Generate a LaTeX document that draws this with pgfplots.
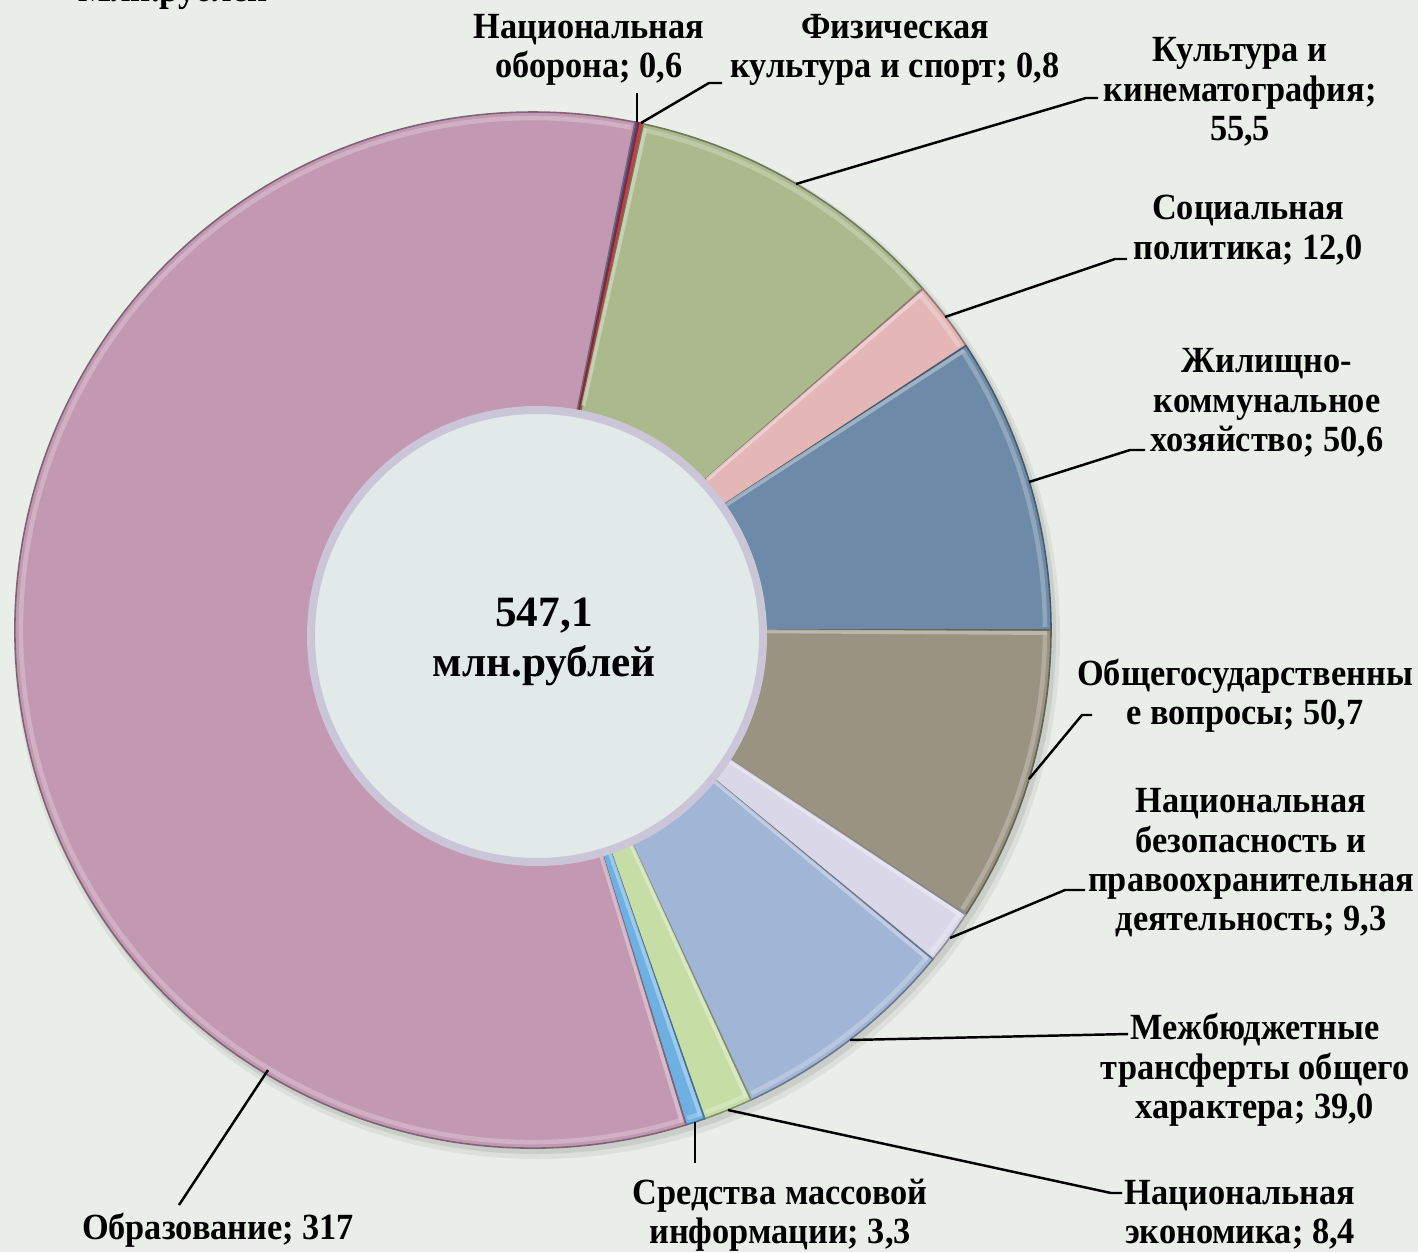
\documentclass[border=0pt]{standalone}
\usepackage{fontspec}
\setmainfont{Liberation Serif}
\newfontfamily\lblfont{Liberation Serif}[FakeStretch=0.93]
\usepackage{pgfplots}
\usepackage{pgfplotstable}
\usetikzlibrary{calc}
\pgfplotsset{compat=1.18}

\definecolor{bg}{RGB}{233,238,232}
\definecolor{slc0}{RGB}{72,78,142}
\definecolor{slc1}{RGB}{200,62,72}
\definecolor{slc2}{RGB}{171,185,140}
\definecolor{slc3}{RGB}{228,182,182}
\definecolor{slc4}{RGB}{109,139,168}
\definecolor{slc5}{RGB}{153,147,129}
\definecolor{slc6}{RGB}{218,216,232}
\definecolor{slc7}{RGB}{161,181,214}
\definecolor{slc8}{RGB}{198,222,166}
\definecolor{slc9}{RGB}{110,176,226}
\definecolor{slc10}{RGB}{195,152,178}
\definecolor{innerfill}{RGB}{225,234,233}
\definecolor{innerborder}{RGB}{203,198,215}

\tikzset{
  lbl/.style={font=\lblfont\fontsize{10.5}{11.2}\selectfont\bfseries,align=center,inner sep=0pt},
  leader/.style={black,line width=0.7pt}}

% budget by section, mln roubles, clockwise from the first slice
\pgfplotstableread{
value
0.6
0.8
55.5
12.0
50.6
50.7
9.3
39.0
8.4
3.3
317
}\budget

\begin{document}
\begin{tikzpicture}
\useasboundingbox (0,0) rectangle (141.8mm,125.2mm);
\pgfplotstablegetrowsof{\budget}
\pgfmathtruncatemacro\nrows{\pgfplotsretval-1}
\gdef\total{0}
\foreach \i in {0,...,\nrows}{%
  \pgfplotstablegetelem{\i}{value}\of\budget
  \pgfmathsetmacro\tmp{\total+\pgfplotsretval}%
  \xdef\total{\tmp}%
}
\gdef\cur{78.63}
\foreach \i in {0,...,\nrows}{%
  \pgfplotstablegetelem{\i}{value}\of\budget
  \pgfmathsetmacro\nxt{\cur-\pgfplotsretval/\total*360}%
  \expandafter\xdef\csname sa\i\endcsname{\cur}%
  \expandafter\xdef\csname ea\i\endcsname{\nxt}%
  \xdef\cur{\nxt}%
}
\begin{axis}[x=0.1mm,y=0.1mm,xmin=0,xmax=1418,ymin=0,ymax=1252,
  hide axis,clip=false,anchor=south west,at={(0,0)}]
\fill[bg] (axis cs:0,0) rectangle (axis cs:1418,1252);
\fill[black,opacity=0.06] (axis cs:537,616) circle[radius=52.3mm];
\fill[black,opacity=0.08] (axis cs:536,618) circle[radius=52.0mm];
\pgfplotsinvokeforeach{0,...,10}{%
  \edef\temp{\noexpand\fill[slc#1,draw=slc#1!65!black,line width=0.45pt]
    (axis cs:533,622) -- +(\csname sa#1\endcsname:51.8mm)
    arc[start angle=\csname sa#1\endcsname,end angle=\csname ea#1\endcsname,radius=51.8mm] -- cycle;}%
  \temp
}
\pgfplotsinvokeforeach{2,...,10}{%
  \edef\temp{\noexpand\draw[slc#1!55!white,line width=1.1pt,opacity=0.75]
    ($(axis cs:533,622)+(\csname sa#1\endcsname-0.35:23mm)$) -- +(\csname sa#1\endcsname-0.35:28.4mm);}%
  \temp
  \edef\temp{\noexpand\draw[slc#1!60!white,line width=1.3pt,opacity=0.6]
    ($(axis cs:533,622)+(\csname sa#1\endcsname-0.35:51.2mm)$)
    arc[start angle=\csname sa#1\endcsname-0.35,end angle=\csname ea#1\endcsname+0.35,radius=51.2mm];}%
  \temp
}
\fill[innerfill,draw=innerborder,line width=0.8mm] (axis cs:537,616) circle[radius=22.6mm];
\node[font=\fontsize{12.3}{14}\selectfont\bfseries,anchor=base] at (axis cs:544,625) {547,1};
\node[font=\fontsize{12.3}{14}\selectfont\bfseries,anchor=base] at (axis cs:544,575) {млн.рублей};

\node[font=\lblfont\fontsize{10.7}{12}\selectfont\bfseries,anchor=base] at (axis cs:173,1250) {Млн.рублей};

% leader lines
\draw[leader] (axis cs:637,1130) -- (axis cs:637,1159);
\draw[leader] (axis cs:641,1129) -- (axis cs:709,1169) -- (axis cs:722,1169);
\draw[leader] (axis cs:796,1068) -- (axis cs:1086,1154) -- (axis cs:1098,1154);
\draw[leader] (axis cs:945,935) -- (axis cs:1115,993) -- (axis cs:1127,993);
\draw[leader] (axis cs:1029,770) -- (axis cs:1130,802) -- (axis cs:1145,802);
\draw[leader] (axis cs:1029,473) -- (axis cs:1082,537) -- (axis cs:1092,537);
\draw[leader] (axis cs:950,314) -- (axis cs:1065,362) -- (axis cs:1085,362);
\draw[leader] (axis cs:850,212) -- (axis cs:1128,218);
\draw[leader] (axis cs:728,142) -- (axis cs:1111,59) -- (axis cs:1122,59);
\draw[leader] (axis cs:695,130) -- (axis cs:695,89);
\draw[leader] (axis cs:268,182) -- (axis cs:179,47);

% labels
\node[lbl] at (axis cs:589,1202) {Национальная\\оборона; 0,6};
\node[lbl] at (axis cs:895,1202) {Физическая\\культура и спорт; 0,8};
\node[lbl] at (axis cs:1240,1160) {Культура и\\кинематография;\\55,5};
\node[lbl] at (axis cs:1248,1022) {Социальная\\политика; 12,0};
\node[lbl] at (axis cs:1267,849) {Жилищно-\\коммунальное\\хозяйство; 50,6};
\node[lbl] at (axis cs:1245,556) {Общегосударственны\\е вопросы; 50,7};
\node[lbl] at (axis cs:1251,389) {Национальная\\безопасность и\\правоохранительная\\деятельность; 9,3};
\node[lbl] at (axis cs:1255,182) {Межбюджетные\\трансферты общего\\характера; 39,0};
\node[lbl] at (axis cs:1240,37) {Национальная\\экономика; 8,4};
\node[lbl] at (axis cs:780,37) {Средства массовой\\информации; 3,3};
\node[lbl] at (axis cs:218,22) {Образование; 317};
\end{axis}
\end{tikzpicture}
\end{document}
